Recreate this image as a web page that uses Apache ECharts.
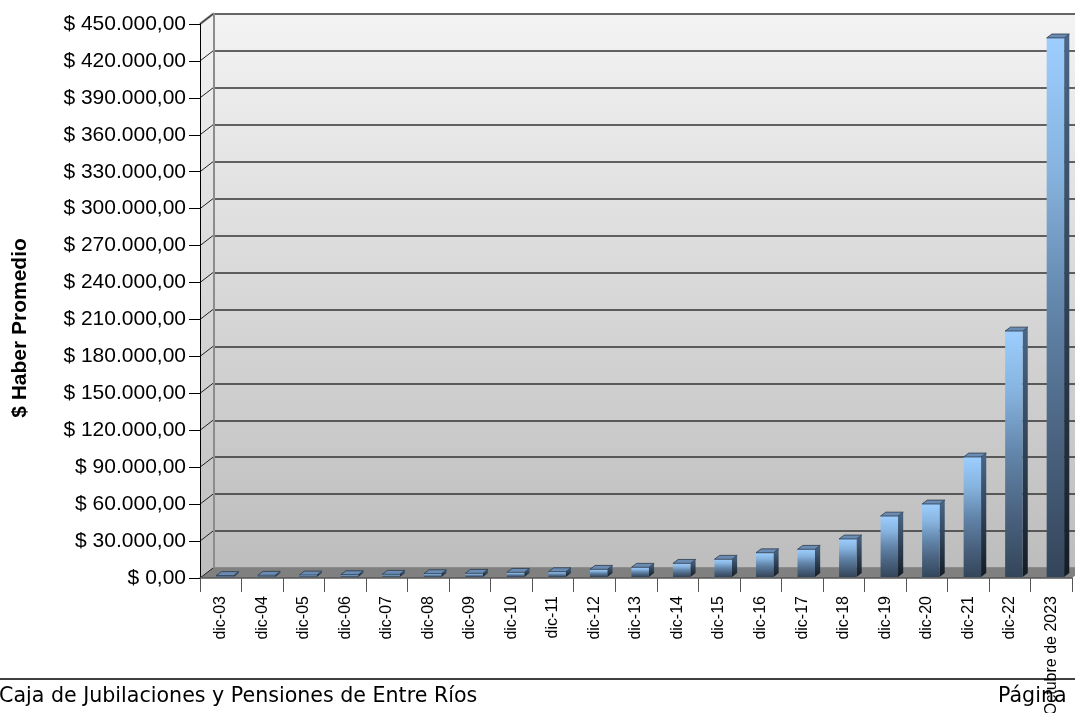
<!DOCTYPE html>
<html>
<head>
<meta charset="utf-8">
<title>Haber Promedio</title>
<script src="https://cdn.jsdelivr.net/npm/echarts@6/dist/echarts.min.js"></script>
<style>
  html, body { margin: 0; padding: 0; background: #fff; }
  #chart { width: 1075px; height: 713px; }
</style>
</head>
<body>
<div id="chart"></div>
<script>
const categories = ["dic-03", "dic-04", "dic-05", "dic-06", "dic-07", "dic-08", "dic-09", "dic-10",
    "dic-11", "dic-12", "dic-13", "dic-14", "dic-15", "dic-16", "dic-17", "dic-18", "dic-19",
    "dic-20", "dic-21", "dic-22", "Octubre de 2023"];
const haberPromedio = [1200, 1400, 1600, 1900, 2200, 2700, 3000, 3800, 4300, 6250, 7900, 11100,
    14400, 19700, 22500, 30900, 49500, 59300, 97500, 199800, 437900];
const yTicks = [0, 30000, 60000, 90000, 120000, 150000, 180000, 210000, 240000, 270000, 300000,
    330000, 360000, 390000, 420000, 450000];

const FONT = "'Liberation Sans', Arial, sans-serif";
const FOOT_FONT = "20.6px 'DejaVu Sans', Verdana, sans-serif";
const DEPTH_X = 13;
const DEPTH_Y = 10;
const LG = echarts.graphic.LinearGradient;

function money(v) {
    return "$ " + String(v).replace(/\B(?=(\d{3})+(?!\d))/g, ".") + ",00";
}

function wallGradient() {
    return new LG(0, 0, 0, 1, [
        { offset: 0, color: "#f3f3f3" },
        { offset: 1, color: "#bdbdbd" },
    ]);
}

// side wall + floor, drawn once
function render_walls(params, api) {
    const g = params.coordSys;
    const left = g.x, right = g.x + g.width, top = g.y, bottom = g.y + g.height;
    return {
        type: "group",
        children: [
            {
                type: "polygon",
                shape: { points: [[left, top], [left + DEPTH_X, top - DEPTH_Y], [left + DEPTH_X, bottom - DEPTH_Y], [left, bottom]] },
                style: { fill: wallGradient() },
            },
            {
                type: "line",
                shape: { x1: left, y1: top, x2: left + DEPTH_X, y2: top - DEPTH_Y },
                style: { stroke: "#8c8c8c", lineWidth: 2.5 },
            },
            {
                type: "polygon",
                shape: { points: [[left, bottom], [right, bottom], [right + DEPTH_X, bottom - DEPTH_Y], [left + DEPTH_X, bottom - DEPTH_Y]] },
                style: { fill: "#808080" },
            },
        ],
    };
}

// diagonal tick connectors on the side wall
function render_tick(params, api) {
    const p = api.coord([0, api.value(1)]);
    const x = params.coordSys.x;
    return {
        type: "line",
        shape: { x1: x, y1: p[1], x2: x + DEPTH_X, y2: p[1] - DEPTH_Y },
        style: { stroke: "#222", lineWidth: 1 },
    };
}

function render_bar(params, api) {
    const i = api.value(0);
    const base = api.coord([i, 0]);
    const top = api.coord([i, api.value(1)]);
    const band = api.size([1, 0])[0];
    const w = band * 0.42, dx = band * 0.125, dy = dx * 0.75;
    const cx = base[0] + band * 0.1;
    const x0 = cx - w / 2, x1 = cx + w / 2;
    const yb = base[1] - 1;
    const yt = Math.min(top[1] - 1, yb - 1);
    return {
        type: "group",
        children: [
            {
                type: "polygon",
                shape: { points: [[x1, yt], [x1 + dx, yt - dy], [x1 + dx, yb - dy], [x1, yb]] },
                style: {
                    fill: new LG(0, 0, 0, 1, [
                        { offset: 0, color: "#4a6788" },
                        { offset: 1, color: "#141c25" },
                    ]),
                },
            },
            {
                type: "rect",
                shape: { x: x0, y: yt, width: w, height: yb - yt },
                style: {
                    fill: new LG(0, 0, 0, 1, [
                        { offset: 0, color: "#9dceff" },
                        { offset: 0.25, color: "#86b3de" },
                        { offset: 0.5, color: "#6285aa" },
                        { offset: 0.75, color: "#4a627f" },
                        { offset: 1, color: "#33455a" },
                    ]),
                },
            },
            {
                type: "polygon",
                shape: { points: [[x0, yt], [x0 + dx, yt - dy], [x1 + dx, yt - dy], [x1, yt]] },
                style: { fill: "#6a8cb4", stroke: "#2c3a4a", lineWidth: 0.8 },
            },
        ],
    };
}

const chart = echarts.init(document.getElementById("chart"), null, { renderer: "canvas" });

chart.setOption({
    animation: false,
    backgroundColor: "#fff",
    grid: [
        { left: 200, right: 3, top: 24, bottom: 135, outerBoundsMode: "none", containLabel: false },
        {
            left: 200 + DEPTH_X, right: 3 - DEPTH_X, top: 24 - DEPTH_Y, bottom: 135 + DEPTH_Y,
            outerBoundsMode: "none", containLabel: false,
            show: true, borderWidth: 0, backgroundColor: wallGradient(),
        },
    ],
    xAxis: [
        {
            gridIndex: 0, type: "category", data: categories, z: 5,
            axisLine: { show: true, lineStyle: { color: "#555", width: 1.5 } },
            axisTick: { show: true, length: 14, interval: 0, lineStyle: { color: "#555" } },
            axisLabel: { interval: 0, rotate: 90, margin: 18, color: "#000", fontSize: 16, fontFamily: FONT },
        },
        {
            gridIndex: 1, type: "category", data: categories, position: "top",
            axisLine: { show: true, lineStyle: { color: "#8c8c8c", width: 3 } },
            axisTick: { show: false }, axisLabel: { show: false },
        },
    ],
    yAxis: [
        {
            gridIndex: 0, type: "value", min: 0, max: 450000, interval: 30000, z: 5,
            axisLine: { show: true, lineStyle: { color: "#000", width: 1 } },
            axisTick: { show: true, length: 11, lineStyle: { color: "#000" } },
            axisLabel: { margin: 14, color: "#000", fontSize: 21, fontFamily: FONT, formatter: money },
            splitLine: { show: false },
        },
        {
            gridIndex: 1, type: "value", min: 0, max: 450000, interval: 30000,
            axisLine: { show: true, lineStyle: { color: "#8c8c8c", width: 3 } },
            axisTick: { show: false }, axisLabel: { show: false },
            splitLine: { show: true, lineStyle: { color: "#333", width: 1.5 } },
        },
    ],
    series: [
        {
            type: "custom", name: "walls", xAxisIndex: 0, yAxisIndex: 0, z: 1,
            renderItem: render_walls, data: [[0, 0]], silent: true,
        },
        {
            type: "custom", name: "ticks", xAxisIndex: 0, yAxisIndex: 0, z: 1.5,
            renderItem: render_tick, data: yTicks.map((v) => [0, v]), silent: true,
        },
        {
            type: "custom", name: "$ Haber Promedio", xAxisIndex: 0, yAxisIndex: 0, z: 3,
            renderItem: render_bar, encode: { x: 0, y: 1 },
            data: haberPromedio.map((v, i) => [i, v]),
        },
    ],
    graphic: [
        {
            type: "text", x: 20, y: 328, rotation: Math.PI / 2,
            style: { text: "$ Haber Promedio", font: "bold 21px " + FONT, fill: "#000", align: "center", verticalAlign: "middle" },
        },
        {
            type: "line", shape: { x1: 0, y1: 679, x2: 1075, y2: 679 },
            style: { stroke: "#000", lineWidth: 1.5 },
        },
        {
            type: "text", x: -1, y: 697,
            style: { text: "Caja de Jubilaciones y Pensiones de Entre Ríos", font: FOOT_FONT, fill: "#000", verticalAlign: "middle" },
        },
        {
            type: "text", x: 998, y: 697,
            style: { text: "Página 1", font: FOOT_FONT, fill: "#000", verticalAlign: "middle" },
        },
    ],
});
</script>
</body>
</html>
